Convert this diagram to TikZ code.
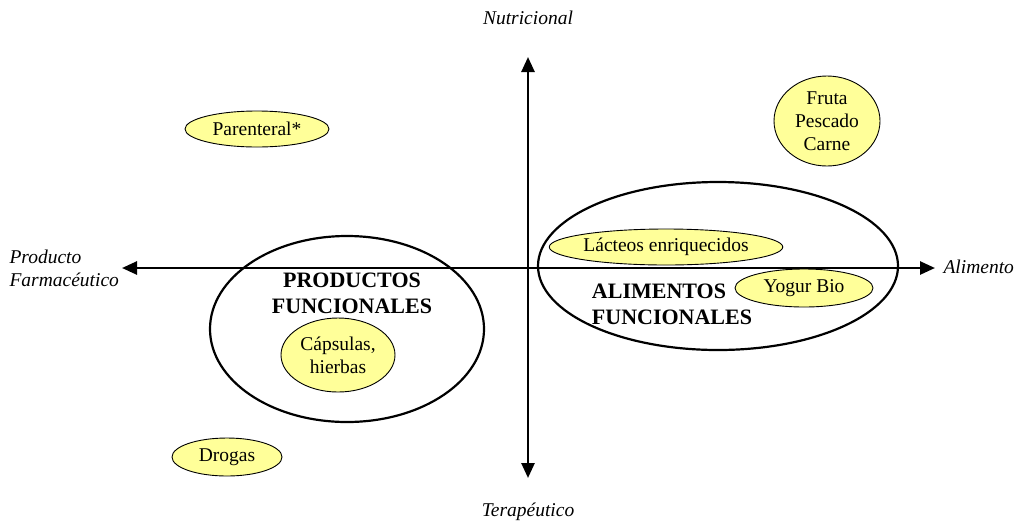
\documentclass[tikz,border=0pt]{standalone}
\usepackage{fontspec}
\setmainfont{Liberation Serif}
\usetikzlibrary{shapes.geometric,arrows.meta}
\definecolor{crema}{HTML}{FFFF99}

\begin{document}
\begin{tikzpicture}[x=1pt,y=-1pt,
    every node/.style={font=\fontsize{19.5}{23}\selectfont},
    eje/.style={line width=2.6pt,{Triangle[length=15pt,width=13pt]}-{Triangle[length=15pt,width=13pt]}},
    rotulo/.style={font=\fontsize{19.5}{23}\selectfont\itshape},
    item/.style={draw,ellipse,fill=crema,line width=0.9pt,inner sep=0pt,align=center},
    grupo/.style={draw,ellipse,line width=2.2pt,inner sep=0pt},
    titulo/.style={font=\fontsize{22}{26}\selectfont\bfseries,align=center}]
  \useasboundingbox (0,0) rectangle (1016,523);

  % ejes
  \coordinate (oeste) at (122,268);
  \coordinate (este) at (935,268);
  \coordinate (norte) at (528,57);
  \coordinate (sur) at (528,478);
  \draw[eje] (oeste) -- (este);
  \draw[eje] (sur) -- (norte);

  \node[rotulo] (nutri) at (528,18) {Nutricional};
  \node[rotulo] (tera) at (528,512) {Terapéutico};
  \node[rotulo,align=left,anchor=west] (farma) at (6,268) {Producto\\Farmacéutico};
  \node[rotulo,anchor=west] (alimento) at (940,267) {Alimento};

  % grupos grandes
  \node[grupo,minimum width=274pt,minimum height=186pt] (prod) at (347,329) {};
  \node[grupo,minimum width=360pt,minimum height=168pt] (alim) at (718,266) {};

  \node[titulo] (prodtxt) at (352,293) {PRODUCTOS\\FUNCIONALES};
  \node[titulo,align=left] (alimtxt) at (672,304) {ALIMENTOS\\FUNCIONALES};

  % productos
  \node[item,minimum width=144pt,minimum height=36pt] (parenteral) at (257,129) {Parenteral*};
  \node[item,minimum width=106pt,minimum height=90pt] (fruta) at (827,121) {Fruta\\Pescado\\Carne};
  \node[item,minimum width=222pt,minimum height=36pt] (lacteos) at (666,247) {Lácteos enriquecidos};
  \node[item,minimum width=138pt,minimum height=38pt] (yogur) at (804,288) {Yogur Bio};
  \node[item,minimum width=114pt,minimum height=74pt] (capsulas) at (338,355) {Cápsulas,\\hierbas};
  \node[item,minimum width=110pt,minimum height=38pt] (drogas) at (227,457) {Drogas};
\end{tikzpicture}
\end{document}
